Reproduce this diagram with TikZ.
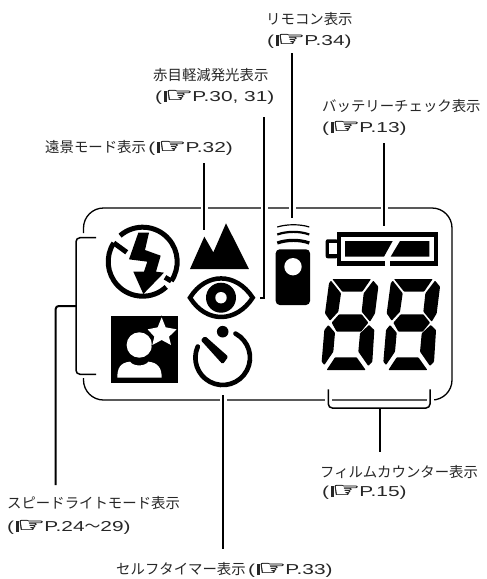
\documentclass[tikz,border=0pt]{standalone}
\usepackage{fontspec}
\usepackage{graphicx}
\setmainfont{Noto Sans CJK JP}
\newfontfamily\latf[FakeStretch=1.45]{Liberation Sans}
\newfontfamily\handf[FakeBold=1.2]{DejaVu Sans}
\newfontfamily\wavef[FakeStretch=1.1]{Noto Sans CJK JP}
\newcommand{\hnd}{\rule[-1pt]{3pt}{11pt}\kern-1.5pt\smash{\raisebox{-1pt}{\scalebox{1.5}[1]{\fontsize{21}{21}\handf ☞}}}\kern-1pt}
\newcommand{\pgref}[1]{{\latf(\kern1.5pt}\hnd{\latf #1)}}
\tikzset{
  lbl/.style={anchor=base west,inner sep=0pt,font=\fontsize{14.4}{16}\selectfont,text=black!85},
  leader/.style={line width=2pt,black},
  halo/.style={line width=7pt,white},
  panel/.style={line width=1.3pt,black},
  brk/.style={line width=1.5pt,black,rounded corners=4pt},
  z1/.style={shift={(70pt,-190pt)},x=0.33333pt,y=-0.33333pt},
  z2/.style={shift={(260pt,-190pt)},x=0.33333pt,y=-0.33333pt},
  z5/.style={shift={(105pt,-310pt)},x=0.33333pt,y=-0.33333pt},
  z6/.style={x=0.33333pt,y=-0.33333pt},
  seg/.style={fill=black,rounded corners=0.7pt}
}
\newcommand{\digit}[1]{\begin{scope}[shift={(#1,-270pt)},z6]
  \fill[seg] (52,27)--(168,27)--(142,65)--(82,65)--cycle;
  \fill[seg] (42,40)--(48,32)--(78,70)--(70,125)--(45,152)--(30,130)--cycle;
  \fill[seg] (175,32)--(190,50)--(180,130)--(165,155)--(140,125)--(146,70)--cycle;
  \fill[seg] (50,158)--(72,133)--(140,133)--(160,158)--(138,185)--(65,185)--cycle;
  \fill[seg] (40,165)--(60,188)--(55,245)--(28,285)--(20,275)--(28,180)--cycle;
  \fill[seg] (162,165)--(178,180)--(172,275)--(160,288)--(130,245)--(135,190)--cycle;
  \fill[seg] (35,300)--(60,262)--(125,262)--(152,300)--cycle;
\end{scope}}
\begin{document}
\begin{tikzpicture}[x=1pt,y=1pt]
\useasboundingbox (0,-579) rectangle (487,0);
% labels
\node[lbl] (t1) at (266,-24) {リモコン表示};
\node[lbl] (t1b) at (267,-45) {\pgref{P.34}};
\node[lbl] (t2) at (153,-80) {赤目軽減発光表示};
\node[lbl] (t2b) at (155,-101) {\pgref{P.30, 31}};
\node[lbl] (t3) at (322,-111) {バッテリーチェック表示};
\node[lbl] (t3b) at (322,-132) {\pgref{P.13}};
\node[lbl] (t4) at (45,-152) {遠景モード表示\,\pgref{P.32}};
\node[lbl] (t5) at (7,-508) {スピードライトモード表示};
\node[lbl] (t5b) at (7,-531) {\pgref{P.24{\wavef 〜}29}};
\node[lbl] (t6) at (116,-574) {セルフタイマー表示\,\pgref{P.33}};
\node[lbl] (t7) at (320,-477) {フィルムカウンター表示};
\node[lbl] (t7b) at (322,-496) {\pgref{P.15}};
% panel
\draw[panel,rounded corners=20pt] (83.5,-233)--(83.5,-208)--(452,-208)--(452,-400)--(83.5,-400)--(83.5,-378);
% coordinates
\coordinate (a1) at (292.3,-53); \coordinate (a2) at (292.3,-218);
\coordinate (b1) at (264.3,-117); \coordinate (b2) at (264.3,-298); \coordinate (b3) at (260,-298);
\coordinate (c1) at (384.3,-143); \coordinate (c2) at (384.3,-226);
\coordinate (d1) at (204,-163); \coordinate (d2) at (204,-230);
\coordinate (e1) at (223.3,-395); \coordinate (e2) at (223.3,-549);
\coordinate (f1) at (55.7,-485); \coordinate (f2) at (55.7,-306); \coordinate (f3) at (76,-306);
\coordinate (g1) at (380,-408); \coordinate (g2) at (380,-452);
% halos
\foreach \x in {292.3,264.3,384.3,204}{\draw[halo] (\x,-204)--(\x,-212);}
\foreach \x in {223.3,328.3,430}{\draw[halo] (\x,-396)--(\x,-404);}
% leaders
\draw[leader] (a1)--(a2);
\draw[leader] (b1)--(b2)--(b3);
\draw[leader] (c1)--(c2);
\draw[leader] (d1)--(d2);
\draw[leader] (e1)--(e2);
\draw[leader,rounded corners=3pt] (f1)--(f2)--(f3);
\draw[leader] (g1)--(g2);
% brackets
\draw[brk] (96,-237.7)--(76,-237.7)--(76,-374.3)--(96,-374.3);
\draw[brk] (328.3,-389.3)--(328.3,-408)--(430,-408)--(430,-389.3);
% flash-off icon
\coordinate (fc) at (142.7,-261.7);
\draw[line width=5pt] (fc)+(131:34.5) arc[start angle=131,end angle=-34,radius=34.5];
\draw[line width=5pt] (fc)+(-47:34.5) arc[start angle=-47,end angle=-213,radius=34.5];
\draw[line width=5pt] (113.8,-242.9)--(126.7,-252.3);
\draw[line width=5pt] (171.3,-281)--(165,-277.3);
\begin{scope}[z1]
\fill (205,128)--(237,128)--(225,180)--(272,197)--(258,245)--(282,248)--(220,312)--(190,245)--(222,245)--(232,215)--(177,208)--cycle;
% mountain
\fill (360,237)--(403,140)--(430,187)--(468,100)--(537,237)--cycle;
% timer hand
\fill[rounded corners=1.5pt] (392,450)--(405,438)--(475,500)--(458,523)--cycle;
\end{scope}
% eye
\draw[line width=4.5pt,line join=miter,miter limit=10] (190,-297.7) .. controls (206,-272) and (236,-272) .. (252.7,-297.7) .. controls (236,-323.4) and (206,-323.4) .. cycle;
\fill (221,-297.7) circle[radius=15];
\fill[white] (221,-297.7) circle[radius=5.7];
% timer
\draw[line width=4.7pt,line cap=round] (222.7,-357.7)+(62:27.3) arc[start angle=62,end angle=-204,radius=27.3];
\fill (222.7,-331.7) circle[radius=5.8];
% portrait
\fill (111,-316) rectangle (178,-382.5);
\fill[white] (139.3,-345) circle[radius=12.7];
\begin{scope}[z5]
\fill[white] (37,203) .. controls (37,175) and (45,158) .. (75,155) .. controls (85,170) and (120,170) .. (130,155) .. controls (160,158) and (170,175) .. (170,203) -- cycle;
\draw[black,line width=1.5pt,fill=white,line join=miter] (170,22)--(182,52)--(215,58)--(192,80)--(198,105)--(170,90)--(142,105)--(148,80)--(128,58)--(158,52)--cycle;
\fill[white] (170,22)--(182,52)--(215,58)--(192,80)--(198,105)--(170,90)--(142,105)--(148,80)--(128,58)--(158,52)--cycle;
\end{scope}
% remote
\fill[rounded corners=4pt] (275.7,-305) rectangle (310,-249.3);
\fill[white] (293,-266.7) circle[radius=8.7];
\draw[line width=1.2pt] (277.3,-227) .. controls (287,-224) and (300,-224) .. (309.3,-227);
\draw[line width=2.2pt] (277.3,-234.5) .. controls (287,-231) and (300,-231) .. (309.3,-234.5);
\draw[line width=3.2pt] (277.3,-243) .. controls (287,-239.5) and (300,-239.5) .. (309.3,-243);
% battery
\fill (336.7,-231.7) rectangle (437.7,-265.7);
\fill[rounded corners=2pt] (325.7,-239.3) rectangle (338,-258.3);
\fill[white] (329.3,-243.3) rectangle (337.3,-254.3);
\fill[white] (341,-236.7) rectangle (434,-261);
\begin{scope}[z2]
\fill (255,153)--(398,153)--(372,200)--(255,200)--cycle;
\fill (420,153)--(508,153)--(508,200)--(392,200)--cycle;
\fill[white] (375,210) rectangle (390,228);
\end{scope}
% digits
\digit{315pt}
\digit{376.7pt}
\end{tikzpicture}
\end{document}
